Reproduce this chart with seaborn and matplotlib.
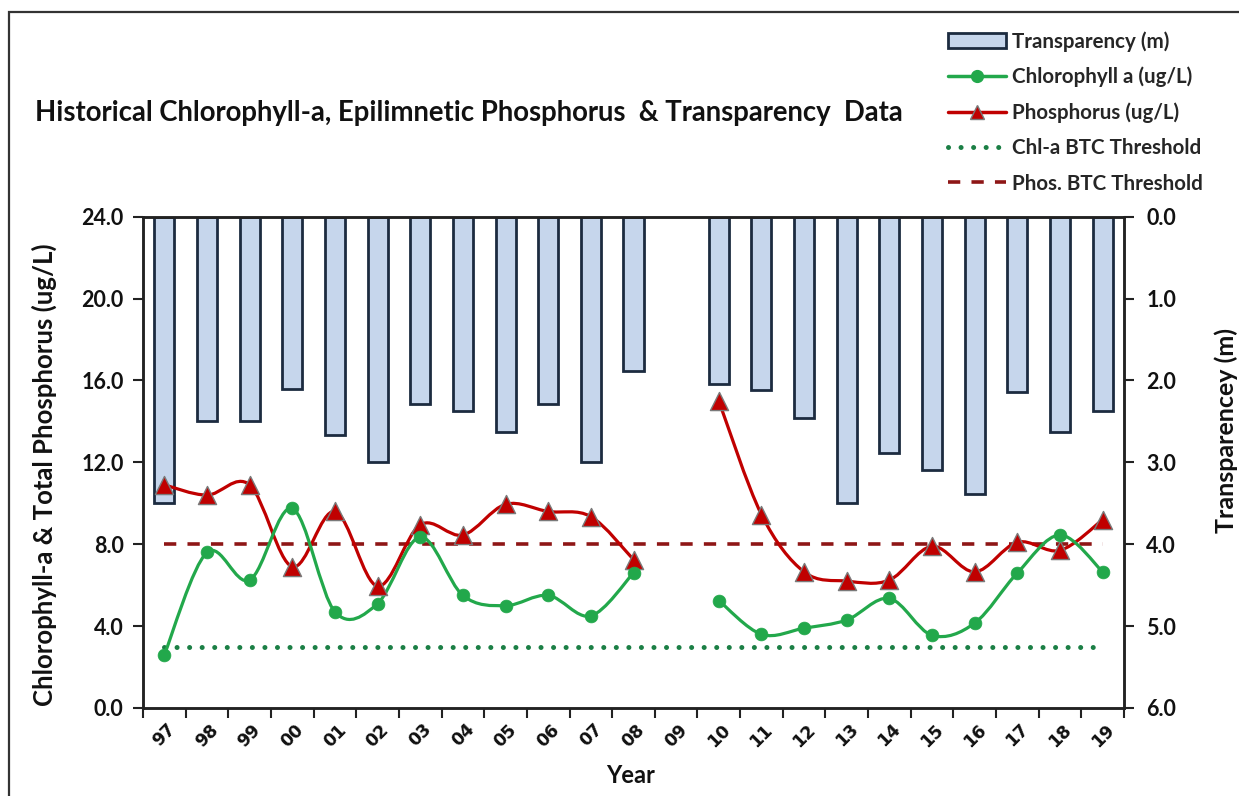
import numpy as np
import pandas as pd
import matplotlib
matplotlib.use("Agg")
import matplotlib.pyplot as plt
import seaborn as sns
from matplotlib.path import Path
from matplotlib.patches import PathPatch, Patch, Rectangle
from matplotlib.lines import Line2D

nan = np.nan
years = ["97", "98", "99", "00", "01", "02", "03", "04", "05", "06", "07", "08",
         "09", "10", "11", "12", "13", "14", "15", "16", "17", "18", "19"]
transparency = [3.50, 2.50, 2.50, 2.10, 2.67, 3.00, 2.29, 2.37, 2.63, 2.29, 3.00, 1.89,
                nan, 2.04, 2.12, 2.46, 3.50, 2.88, 3.09, 3.39, 2.14, 2.63, 2.37]
chlorophyll = [2.60, 7.60, 6.25, 9.75, 4.70, 5.10, 8.35, 5.50, 5.00, 5.50, 4.50, 6.60,
               nan, 5.25, 3.60, 3.90, 4.30, 5.35, 3.55, 4.15, 6.60, 8.45, 6.65]
phosphorus = [10.90, 10.40, 10.90, 6.90, 9.60, 5.95, 8.95, 8.45, 9.95, 9.60, 9.35, 7.25,
              nan, 15.00, 9.45, 6.65, 6.20, 6.25, 7.90, 6.65, 8.10, 7.70, 9.20]
chl_threshold = 3.0
phos_threshold = 8.0
left_ticks = [0.0, 4.0, 8.0, 12.0, 16.0, 20.0, 24.0]
right_ticks = [0.0, 1.0, 2.0, 3.0, 4.0, 5.0, 6.0]

sns.set_style("ticks")
plt.rcParams["font.family"] = ["Lato", "DejaVu Sans"]

BAR_FILL = "#c6d6ec"
BAR_EDGE = "#1c2b40"
GREEN = "#22a84b"
DKGREEN = "#1b7f45"
RED = "#c00000"
DKRED = "#8e1616"
SPINE = "#222222"
TXT = "#111111"

df = pd.DataFrame({"year": years, "transparency": transparency,
                   "chlorophyll": chlorophyll, "phosphorus": phosphorus})
xi = np.arange(len(years), dtype=float)

fig = plt.figure(figsize=(12.39, 7.96), dpi=100)
ax = fig.add_axes([143 / 1239, 1 - 708 / 796, (1124 - 143) / 1239, (708 - 216.7) / 796])
ax2 = ax.twinx()

# bars (transparency, on inverted right axis)
sns.barplot(data=df, x="year", y="transparency", order=years, color=BAR_FILL,
            edgecolor=BAR_EDGE, linewidth=2.0, width=0.47, saturation=1, ax=ax2,
            errorbar=None)
ax2.set_ylim(6.0, 0.0)
ax.set_zorder(ax2.get_zorder() + 1)
ax.patch.set_visible(False)


def smooth_path(x, y):
    """Excel-style smoothed line through the points (cubic Bezier, Catmull-Rom)."""
    verts, codes = [], []
    ok = ~np.isnan(y)
    segs, cur = [], []
    for k in range(len(x)):
        if ok[k]:
            cur.append(k)
        else:
            if cur:
                segs.append(cur)
            cur = []
    if cur:
        segs.append(cur)
    for s in segs:
        P = np.column_stack([x[s], y[s]])
        n = len(P)
        verts.append(P[0]); codes.append(Path.MOVETO)
        for i in range(n - 1):
            p0 = P[i - 1] if i > 0 else P[i]
            p1 = P[i]
            p2 = P[i + 1]
            p3 = P[i + 2] if i + 2 < n else P[i + 1]
            c1 = p1 + (p2 - p0) / 6.0
            c2 = p2 - (p3 - p1) / 6.0
            verts += [c1, c2, p2]
            codes += [Path.CURVE4] * 3
    return Path(verts, codes)


chl = np.array(chlorophyll, dtype=float)
pho = np.array(phosphorus, dtype=float)

# thresholds
ax.plot(xi[[0, -1]], [chl_threshold] * 2, color=DKGREEN, lw=3.6,
        linestyle=(0, (0.01, 2.5)), dash_capstyle="round", zorder=2)
ax.plot(xi[[0, -1]], [phos_threshold] * 2, color=DKRED, lw=2.6,
        linestyle=(0, (3.4, 3.1)), zorder=2)

ax.add_patch(PathPatch(smooth_path(xi, pho), facecolor="none", edgecolor=RED,
                       lw=2.3, zorder=3, capstyle="round", joinstyle="round"))
ax.add_patch(PathPatch(smooth_path(xi, chl), facecolor="none", edgecolor=GREEN,
                       lw=2.3, zorder=3, capstyle="round", joinstyle="round"))

sns.scatterplot(x=xi, y=pho, marker="^", s=170, color=RED, edgecolor="#7a7a7a",
                linewidth=1.0, ax=ax, zorder=4)
sns.scatterplot(x=xi, y=chl, marker="o", s=85, color=GREEN, edgecolor=GREEN,
                linewidth=0.5, ax=ax, zorder=5)

# axes
ax.set_xlim(-0.5, len(years) - 0.5)
ax.set_ylim(0, 24)
ax.set_yticks(left_ticks)
ax.set_yticklabels([f"{v:.1f}" for v in left_ticks])
ax2.set_yticks(right_ticks)
ax2.set_yticklabels([f"{v:.1f}" for v in right_ticks])

ax.set_xticks(np.arange(len(years) + 1) - 0.5)
ax.set_xticklabels([])
ax.set_xticks(xi, minor=True)
ax.set_xticklabels(years, minor=True, rotation=45, ha="center", va="top",
                   fontsize=12.5, family="DejaVu Sans", weight="bold", color=TXT)
ax.tick_params(axis="x", which="minor", length=0, pad=9)
ax.tick_params(axis="x", which="major", length=7, width=1.5, color=SPINE, direction="out")
ax.tick_params(axis="y", length=7, width=1.5, color=SPINE, direction="out",
               labelsize=15.5, pad=7)
ax2.tick_params(axis="y", length=7, width=1.5, color=SPINE, direction="out",
                labelsize=15.5, pad=9)
for t in ax.get_yticklabels() + ax2.get_yticklabels():
    t.set_fontweight("bold")
    t.set_color(TXT)

for a in (ax, ax2):
    for sp in a.spines.values():
        sp.set_visible(True)
        sp.set_color(SPINE)
        sp.set_linewidth(1.8)

ax.set_xlabel("Year", fontsize=17, weight="bold", color=TXT)
ax.xaxis.set_label_coords(0.497, -0.115)
ax.set_ylabel("Chlorophyll-a & Total Phosphorus (ug/L)", fontsize=18.5,
              weight="bold", color=TXT)
ax.yaxis.set_label_coords(-0.088, 0.475)
ax2.set_ylabel("Transparencey (m)", fontsize=18, weight="bold", color=TXT,
               rotation=90)
ax2.yaxis.set_label_coords(1.092, 0.565)

fig.text(35 / 1239, 1 - 113 / 796,
         "Historical Chlorophyll-a, Epilimnetic Phosphorus  & Transparency  Data",
         ha="left", va="center", fontsize=19.8, weight="bold", color=TXT)

handles = [
    Patch(facecolor=BAR_FILL, edgecolor=BAR_EDGE, linewidth=2.0),
    Line2D([], [], color=GREEN, lw=2.5, marker="o", markersize=8.5,
           markerfacecolor=GREEN, markeredgecolor=GREEN),
    Line2D([], [], color=RED, lw=2.5, marker="^", markersize=10,
           markerfacecolor=RED, markeredgecolor="#7a7a7a"),
    Line2D([], [], color=DKGREEN, lw=3.6, linestyle=(0, (0.01, 2.5)),
           dash_capstyle="round"),
    Line2D([], [], color=DKRED, lw=2.6, linestyle=(0, (3.4, 3.1))),
]
labels = ["Transparency (m)", "Chlorophyll a (ug/L)", "Phosphorus (ug/L)",
          "Chl-a BTC Threshold", "Phos. BTC Threshold"]
fig.legend(handles, labels, loc="upper left", bbox_to_anchor=(948 / 1239, 1 - 31 / 796),
           frameon=False, borderpad=0, borderaxespad=0, handlelength=2.8,
           handletextpad=0.3, labelspacing=0.74,
           prop={"family": "Lato", "weight": "bold", "size": 14.8})

fig.patches.append(Rectangle((9 / 1239, -0.05), 1.2, 1.05 - 12 / 796,
                             transform=fig.transFigure, fill=False,
                             edgecolor="#333333", lw=1.6))

fig.savefig("out.png", dpi=100, facecolor="white")
